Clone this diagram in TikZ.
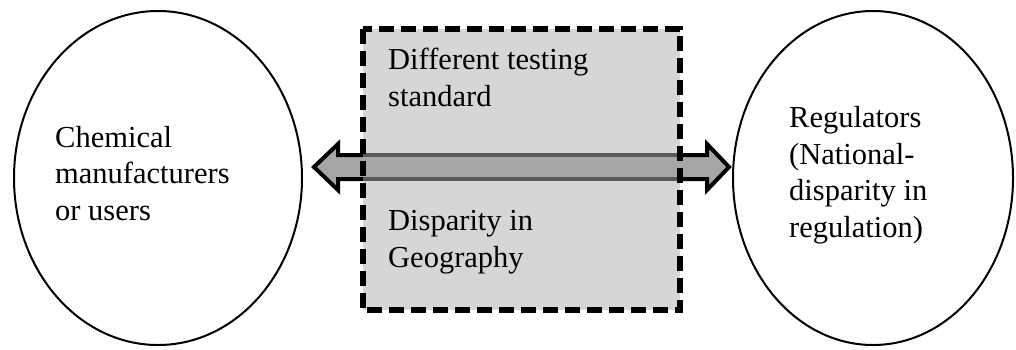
\documentclass[tikz,border=0pt]{standalone}
\usepackage{fontspec}
\setmainfont{Liberation Serif}
\usetikzlibrary{shapes.geometric}
\definecolor{boxgray}{HTML}{D6D6D6}
\definecolor{arrowgray}{HTML}{A6A6A6}
\definecolor{shaftedge}{HTML}{595959}
\tikzset{
  party/.style={draw=black, line width=2pt, ellipse, inner sep=0pt},
  label text/.style={anchor=base west, align=left, inner sep=0pt,
    font=\fontsize{30.5}{36.5}\selectfont},
  issuebox/.style={fill=boxgray, draw=none, minimum width=317pt,
    minimum height=281pt, inner sep=0pt},
  issueborder/.style={draw=black, line width=6pt, dash pattern=on 15pt off 7pt},
}
\begin{document}
\begin{tikzpicture}[x=1pt, y=-1pt]
  \useasboundingbox (0,0) rectangle (1016,349);

  % the two parties
  \node[party, minimum width=288pt, minimum height=334pt] (makers) at (158,178) {};
  \node[party, minimum width=280pt, minimum height=334pt] (regs) at (873,178) {};

  % two-way arrow between the parties
  \coordinate (ltip) at (314,167);
  \coordinate (rtip) at (729,167);
  \draw[line width=4pt, line join=miter, fill=arrowgray]
    (ltip) -- (338,144) -- (338,155) -- (707,155) -- (707,144)
    -- (rtip) -- (707,190) -- (707,179) -- (338,179) -- (338,190) -- cycle;

  % shaded box of the sources of disparity
  \node[issuebox] (gap) at (521.5,169.5) {};
  \fill[arrowgray] (gap.west |- 0,155) rectangle (gap.east |- 0,179);
  \draw[shaftedge, line width=4pt] (gap.west |- 0,155) -- (gap.east |- 0,155)
    (gap.west |- 0,179) -- (gap.east |- 0,179);
  \draw[issueborder] (gap.north west) rectangle (gap.south east);

  % labels (anchored at the baseline of their last line)
  \node[label text] (tmakers) at (55,220) {Chemical\\manufacturers\\or users};
  \node[label text] (tregs) at (789,237) {Regulators\\(National-\\disparity in\\regulation)};
  \node[label text] (ttest) at (388,106) {Different testing\\standard};
  \node[label text] (tgeo) at (388,267) {Disparity in\\Geography};
\end{tikzpicture}
\end{document}
